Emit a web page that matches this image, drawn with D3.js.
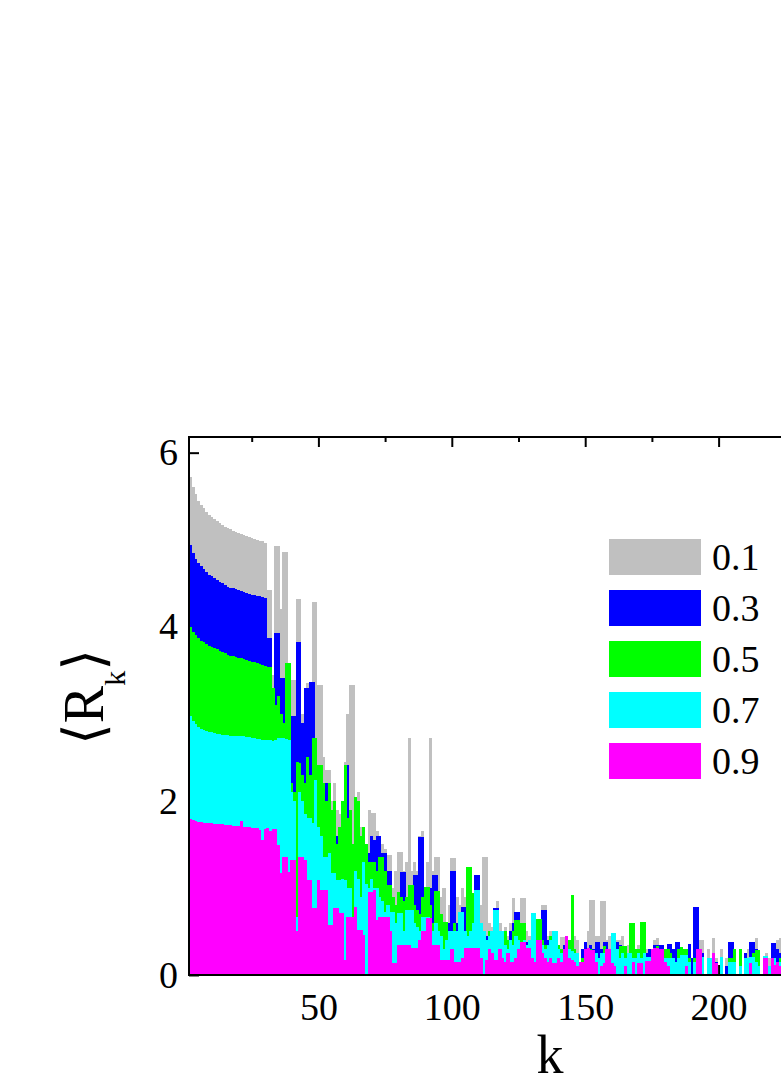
<!DOCTYPE html>
<html>
<head>
<meta charset="utf-8">
<script src="https://cdn.jsdelivr.net/npm/d3@7"></script>
<style>
  body { margin: 0; background: #fff; }
  svg { display: block; }
</style>
</head>
<body>
<div id="chart"></div>
<script>
// degree k of the first bar; each array below holds one value per k (k = 2, 3, 4, ...)
const kFirst = 2;

const r01 = [
  5.72,5.60,5.52,5.45,5.40,5.36,5.32,5.28,5.26,5.24,
  5.21,5.19,5.17,5.15,5.14,5.12,5.10,5.09,5.08,5.07,
  5.05,5.04,5.03,5.02,5.01,5.00,4.99,4.98,4.96,4.42,
  4.42,3.45,4.93,4.93,4.20,4.86,4.86,3.00,3.39,3.39,
  4.32,4.32,3.00,3.30,3.35,3.37,4.29,4.29,3.33,3.33,
  2.50,2.36,2.36,2.00,2.20,1.90,1.85,2.00,2.45,3.00,
  3.33,3.33,1.90,2.10,1.70,1.60,1.50,1.90,1.86,1.86,
  1.65,1.60,1.50,1.45,1.38,1.38,1.00,1.20,1.41,1.41,
  1.20,1.30,2.72,1.20,1.30,1.20,1.60,1.65,1.00,1.30,
  2.72,1.20,1.35,1.35,0.90,1.00,0.60,0.80,1.34,1.34,
  0.90,0.80,1.00,0.90,1.05,1.00,0.90,1.10,1.15,0.80,
  1.36,1.36,0.60,0.55,0.70,0.85,0.60,0.50,0.55,0.45,
  0.60,0.88,0.70,0.60,0.88,0.88,0.50,0.45,0.60,0.50,
  0.55,0.60,0.80,0.80,0.45,0.50,0.40,0.45,0.35,0.44,
  0.44,0.45,0.35,0.45,0.45,0.40,0.00,0.30,0.35,0.50,
  0.86,0.86,0.45,0.45,0.85,0.85,0.40,0.45,0.40,0.45,
  0.40,0.40,0.45,0.30,0.35,0.30,0.35,0.20,0.35,0.40,
  0.30,0.30,0.25,0.30,0.40,0.42,0.30,0.35,0.25,0.30,
  0.20,0.30,0.25,0.30,0.20,0.25,0.20,0.25,0.00,0.30,
  0.20,0.40,0.40,0.00,0.30,0.20,0.42,0.20,0.00,0.30,
  0.00,0.20,0.30,0.25,0.20,0.00,0.25,0.00,0.20,0.30,
  0.35,0.35,0.43,0.25,0.00,0.20,0.25,0.20,0.30,0.35,
  0.40,0.43,0.30,0.25
];

const r03 = [
  4.94,4.85,4.78,4.73,4.70,4.66,4.63,4.60,4.58,4.56,
  4.54,4.52,4.50,4.48,4.46,4.45,4.44,4.43,4.42,4.41,
  4.40,4.39,4.38,4.37,4.36,4.35,4.35,4.34,4.33,3.87,
  3.87,3.20,3.93,3.93,3.41,3.41,3.00,2.80,2.97,2.97,
  3.82,3.82,2.90,3.30,3.30,3.37,3.37,2.60,2.30,2.20,
  2.00,2.20,1.90,1.80,2.00,1.60,1.70,1.50,2.41,2.41,
  1.80,1.40,1.30,1.65,1.30,1.10,1.20,1.40,1.60,1.55,
  1.60,1.60,1.40,1.40,1.20,1.20,0.90,0.78,0.78,1.18,
  1.18,0.90,0.80,1.00,1.15,1.15,1.59,1.59,0.90,0.80,
  1.00,1.15,1.15,0.60,0.50,0.38,0.38,0.60,1.20,1.20,
  0.60,0.50,0.78,0.78,0.50,0.60,0.50,1.15,1.15,0.60,
  0.50,0.45,0.40,0.50,0.77,0.77,0.50,0.45,0.40,0.35,
  0.50,0.60,0.72,0.72,0.50,0.45,0.38,0.38,0.50,0.40,
  0.45,0.50,0.75,0.75,0.40,0.35,0.30,0.35,0.30,0.30,
  0.35,0.20,0.30,0.35,0.30,0.20,0.15,0.30,0.38,0.30,
  0.35,0.30,0.38,0.38,0.30,0.38,0.38,0.30,0.35,0.30,
  0.38,0.35,0.30,0.25,0.20,0.20,0.25,0.30,0.30,0.25,
  0.20,0.25,0.30,0.20,0.35,0.35,0.35,0.35,0.30,0.36,
  0.36,0.30,0.38,0.38,0.25,0.20,0.30,0.36,0.20,0.78,
  0.78,0.20,0.25,0.00,0.20,0.15,0.20,0.15,0.00,0.20,
  0.00,0.10,0.38,0.38,0.20,0.00,0.20,0.00,0.25,0.20,
  0.38,0.38,0.30,0.20,0.00,0.15,0.20,0.00,0.37,0.37,
  0.30,0.25,0.20,0.30
];

const r05 = [
  4.00,3.94,3.90,3.87,3.84,3.82,3.80,3.78,3.77,3.76,
  3.74,3.72,3.71,3.70,3.68,3.67,3.66,3.65,3.64,3.64,
  3.63,3.62,3.61,3.60,3.59,3.58,3.57,3.56,3.55,3.54,
  3.54,3.30,3.10,3.20,3.00,2.90,3.58,3.58,2.20,2.10,
  2.45,2.44,2.30,2.20,2.50,2.30,2.72,2.72,2.41,2.41,
  2.20,2.00,2.20,1.90,2.00,1.50,1.70,2.00,2.41,1.80,
  1.90,1.50,2.05,2.00,1.60,1.70,1.50,1.30,1.30,1.30,
  1.20,1.35,1.35,1.20,1.03,1.03,0.90,0.80,0.95,0.90,
  0.85,0.90,1.03,1.03,0.80,0.75,0.70,0.90,1.01,1.01,
  0.80,0.60,0.96,0.96,0.70,0.61,0.61,0.50,0.45,0.60,
  0.50,0.40,0.50,0.50,1.24,1.24,0.94,0.60,0.50,0.50,
  0.45,0.40,0.50,0.35,0.50,0.45,0.40,0.35,0.50,0.40,
  0.30,0.50,0.63,0.63,0.60,0.60,0.30,0.30,0.40,0.45,
  0.64,0.64,0.40,0.35,0.30,0.45,0.50,0.40,0.35,0.30,
  0.25,0.30,0.40,0.92,0.30,0.20,0.10,0.20,0.20,0.25,
  0.30,0.25,0.20,0.15,0.20,0.33,0.30,0.25,0.25,0.20,
  0.30,0.33,0.33,0.33,0.25,0.60,0.60,0.30,0.30,0.61,
  0.61,0.20,0.15,0.20,0.20,0.33,0.30,0.25,0.30,0.30,
  0.25,0.20,0.15,0.30,0.32,0.30,0.30,0.20,0.00,0.20,
  0.20,0.20,0.15,0.00,0.15,0.10,0.15,0.10,0.00,0.15,
  0.00,0.00,0.20,0.20,0.30,0.00,0.30,0.00,0.20,0.15,
  0.20,0.25,0.29,0.29,0.00,0.10,0.15,0.00,0.20,0.20,
  0.15,0.20,0.10,0.20
];

const r07 = [
  2.97,2.92,2.88,2.85,2.83,2.81,2.80,2.79,2.79,2.78,
  2.77,2.77,2.76,2.76,2.76,2.75,2.75,2.75,2.74,2.74,
  2.74,2.73,2.73,2.72,2.72,2.71,2.71,2.70,2.70,2.70,
  2.70,2.69,2.70,2.72,2.72,2.72,2.71,2.70,2.10,2.00,
  0.67,2.10,2.00,1.85,1.80,1.80,1.75,2.24,1.70,1.60,
  1.35,1.35,1.40,1.17,1.17,1.09,1.09,1.10,1.09,1.00,
  1.00,0.67,1.20,1.10,0.90,1.30,1.05,1.00,1.10,1.00,
  1.00,0.90,0.85,0.72,0.80,0.72,0.72,0.60,0.71,0.71,
  0.50,0.75,0.75,0.75,0.60,0.55,0.50,0.67,0.67,0.67,
  0.40,0.50,0.60,0.50,0.45,0.30,0.40,0.50,0.50,0.50,
  0.50,0.72,0.72,0.50,0.45,0.50,0.60,0.98,0.98,0.60,
  0.50,0.40,0.45,0.50,0.75,0.75,0.50,0.50,0.35,0.30,
  0.40,0.35,0.45,0.40,0.35,0.40,0.35,0.40,0.71,0.71,
  0.30,0.30,0.35,0.30,0.35,0.40,0.50,0.50,0.30,0.25,
  0.20,0.25,0.30,0.28,0.25,0.25,0.10,0.15,0.20,0.25,
  0.28,0.25,0.25,0.20,0.25,0.25,0.25,0.20,0.48,0.48,
  0.30,0.20,0.25,0.20,0.25,0.25,0.20,0.20,0.25,0.20,
  0.25,0.21,0.21,0.15,0.20,0.25,0.27,0.27,0.20,0.20,
  0.20,0.20,0.15,0.20,0.23,0.23,0.23,0.15,0.00,0.15,
  0.15,0.15,0.21,0.00,0.20,0.20,0.20,0.10,0.00,0.21,
  0.00,0.00,0.15,0.15,0.15,0.00,0.10,0.00,0.20,0.20,
  0.21,0.21,0.15,0.10,0.00,0.22,0.22,0.10,0.15,0.20,
  0.15,0.15,0.10,0.15
];

const r09 = [
  1.79,1.78,1.77,1.76,1.76,1.75,1.75,1.75,1.75,1.74,
  1.74,1.73,1.73,1.72,1.72,1.72,1.71,1.71,1.71,1.77,
  1.70,1.70,1.70,1.69,1.69,1.69,1.66,1.55,1.68,1.69,
  1.65,1.68,1.68,1.49,1.17,1.36,1.36,1.18,1.32,1.32,
  0.50,1.35,1.35,1.32,1.09,1.09,0.77,0.77,1.09,0.98,
  0.98,0.98,0.58,0.58,0.77,0.77,0.71,0.71,0.17,0.67,
  0.67,0.67,0.78,0.52,0.52,0.46,0.00,0.95,0.95,0.98,
  0.63,0.67,0.67,0.67,0.67,0.50,0.14,0.14,0.35,0.35,
  0.35,0.35,0.35,0.31,0.31,0.31,0.40,0.50,0.50,0.65,
  0.65,0.35,0.35,0.35,0.17,0.17,0.17,0.17,0.30,0.15,
  0.15,0.15,0.20,0.31,0.31,0.31,0.31,0.31,0.31,0.20,
  0.00,0.17,0.30,0.25,0.17,0.17,0.30,0.20,0.15,0.25,
  0.15,0.15,0.20,0.30,0.38,0.38,0.31,0.31,0.20,0.15,
  0.40,0.40,0.25,0.20,0.15,0.20,0.14,0.14,0.20,0.15,
  0.30,0.45,0.20,0.17,0.15,0.10,0.15,0.15,0.30,0.31,
  0.29,0.29,0.15,0.00,0.10,0.14,0.30,0.30,0.14,0.10,
  0.00,0.00,0.00,0.10,0.00,0.00,0.15,0.00,0.14,0.14,
  0.00,0.16,0.16,0.30,0.31,0.31,0.30,0.30,0.15,0.10,
  0.00,0.00,0.00,0.00,0.00,0.00,0.10,0.00,0.00,0.00,
  0.30,0.30,0.00,0.00,0.00,0.00,0.25,0.14,0.00,0.00,
  0.00,0.00,0.00,0.00,0.00,0.00,0.00,0.00,0.00,0.00,
  0.14,0.00,0.00,0.00,0.00,0.20,0.20,0.00,0.20,0.12,
  0.15,0.10,0.00,0.10
];

const seriesLabels = ["0.1", "0.3", "0.5", "0.7", "0.9"];
const seriesColors = ["#c0c0c0", "#0000ff", "#00ff00", "#00ffff", "#ff00ff"];
const seriesValues = [r01, r03, r05, r07, r09];

const xMajorTicks = [50, 100, 150, 200];
const xMinorTicks = [25, 75, 125, 175, 225];
const yMajorTicks = [0, 2, 4, 6];

const width = 781, height = 1087;

const svg = d3.select("#chart").append("svg")
  .attr("width", width)
  .attr("height", height);

const x = d3.scaleLinear().domain([1.5, 250]).range([189, 852]);
const y = d3.scaleLinear().domain([0, 6.18]).range([975, 437]);

const tickFont = "Liberation Serif, Times New Roman, serif";

// ticks go under the bars
const axisStyle = (g) => {
  g.select(".domain").remove();
  g.selectAll(".tick line").attr("stroke", "#000").attr("stroke-width", 2);
  g.selectAll(".tick text")
    .attr("fill", "#000")
    .attr("font-family", tickFont)
    .attr("font-size", 38);
};

svg.append("g")
  .attr("transform", "translate(0,975)")
  .call(d3.axisBottom(x).tickValues(xMajorTicks).tickSize(-10).tickPadding(18).tickFormat(d3.format("d")))
  .call(axisStyle);
svg.append("g")
  .attr("transform", "translate(0,975)")
  .call(d3.axisBottom(x).tickValues(xMinorTicks).tickSize(-5).tickFormat(""))
  .call(axisStyle);
svg.append("g")
  .attr("transform", "translate(0,437)")
  .call(d3.axisTop(x).tickValues(xMajorTicks).tickSize(-10).tickFormat(""))
  .call(axisStyle);
svg.append("g")
  .attr("transform", "translate(0,437)")
  .call(d3.axisTop(x).tickValues(xMinorTicks).tickSize(-5).tickFormat(""))
  .call(axisStyle);
svg.append("g")
  .attr("transform", "translate(189,0)")
  .call(d3.axisLeft(y).tickValues(yMajorTicks).tickSize(-10).tickPadding(11).tickFormat(d3.format("d")))
  .call(axisStyle);

// bars, lowest rate in the back
seriesValues.forEach((vals, i) => {
  const rows = vals.map((v, j) => ({ k: kFirst + j, v })).filter((d) => d.v > 0);
  svg.append("g")
    .attr("fill", seriesColors[i])
    .attr("shape-rendering", "crispEdges")
    .selectAll("rect")
    .data(rows)
    .join("rect")
    .attr("x", (d) => x(d.k - 0.5))
    .attr("width", (d) => x(d.k + 0.5) - x(d.k - 0.5) + 0.4)
    .attr("y", (d) => y(d.v))
    .attr("height", (d) => y(0) - y(d.v));
});

// frame
const frame = svg.append("g").attr("stroke", "#000").attr("stroke-width", 2).attr("fill", "none");
frame.append("path").attr("d", d3.line()([[x(1.5), y(0)], [x(250), y(0)]]));
frame.append("path").attr("d", d3.line()([[x(1.5), y(6.18)], [x(250), y(6.18)]]));
frame.append("path").attr("d", d3.line()([[x(1.5), y(0) + 1], [x(1.5), y(6.18) - 1]]));

// legend
const legend = svg.append("g").attr("transform", "translate(609,539)");
seriesLabels.forEach((lab, i) => {
  const row = legend.append("g").attr("transform", `translate(0,${i * 51})`);
  row.append("rect").attr("width", 92).attr("height", 36).attr("fill", seriesColors[i]);
  row.append("text")
    .attr("x", 103)
    .attr("y", 18)
    .attr("dy", "0.35em")
    .attr("font-family", tickFont)
    .attr("font-size", 38)
    .text(lab);
});

// axis titles
svg.append("text")
  .attr("x", 550)
  .attr("y", 1073)
  .attr("text-anchor", "middle")
  .attr("font-family", tickFont)
  .attr("font-size", 54)
  .text("k");

const yTitle = svg.append("text")
  .attr("transform", "translate(103,697) rotate(-90)")
  .attr("text-anchor", "middle")
  .attr("font-family", tickFont)
  .attr("font-size", 56);
yTitle.append("tspan").attr("font-family", "DejaVu Serif, serif").attr("font-weight", 200).text("\u27E8");
yTitle.append("tspan").text("R");
yTitle.append("tspan").attr("font-size", 30).attr("dy", 22).text("k");
yTitle.append("tspan").attr("dy", -22).attr("font-family", "DejaVu Serif, serif").attr("font-weight", 200).text("\u27E9");
</script>
</body>
</html>
